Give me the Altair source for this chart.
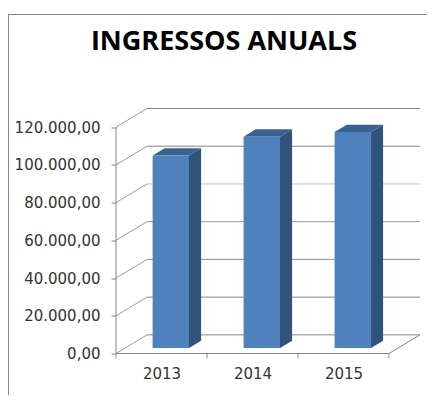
import altair as alt
import pandas as pd

YEARS = ["2013", "2014", "2015"]
VALUES = [102000, 112000, 114500]
LEVELS = [0, 20000, 40000, 60000, 80000, 100000, 120000]
LEVEL_COLORS = ["#868686", "#868686", "#8e8e8e", "#9a9a9a", "#c4c4c4", "#868686", "#868686"]

DEPTH_X = 0.341      # depth of the 3D box, in category units
DEPTH_V = 9886       # depth of the 3D box, in value units
BAR_WIDTH = 0.40
BAR_GAP = 0.30
BAR_FRONT = 0.30     # depth fraction where bar starts
BAR_DEPTH = 0.39     # depth fraction of bar
N = len(YEARS)
XMAX = N + DEPTH_X
YMAX = LEVELS[-1] + DEPTH_V

AXIS_GRAY = "#868686"
FRONT = "#4F81BD"
SIDE = "#31527A"
TOP = "#3A6291"

W, H = 304, 245
xs = alt.Scale(domain=[0, XMAX], nice=False, zero=False)
ys = alt.Scale(domain=[0, YMAX], nice=False, zero=False)

grid = pd.DataFrame({
    "x0": [0.0] * len(LEVELS), "x1": [DEPTH_X] * len(LEVELS), "x2": [N + DEPTH_X] * len(LEVELS),
    "v": LEVELS, "vb": [v + DEPTH_V for v in LEVELS], "c": LEVEL_COLORS,
})

fx = [i + BAR_GAP + BAR_FRONT * DEPTH_X for i in range(N)]
base = BAR_FRONT * DEPTH_V
front = pd.DataFrame({"a": fx, "b": [x + BAR_WIDTH for x in fx],
                      "v0": [base] * N, "v1": [v + base for v in VALUES]})
dx = BAR_DEPTH * DEPTH_X
dv = BAR_DEPTH * DEPTH_V
side_rows, top_rows = [], []
for i, yr in enumerate(YEARS):
    r = fx[i] + BAR_WIDTH
    t = VALUES[i] + base
    side_rows += [{"yr": yr, "x": r, "t": t, "b": base},
                  {"yr": yr, "x": r + dx, "t": t + dv, "b": base + dv}]
    top_rows += [{"yr": yr, "y": t, "l": fx[i], "r": r},
                 {"yr": yr, "y": t + dv, "l": fx[i] + dx, "r": r + dx}]
side = pd.DataFrame(side_rows)
top = pd.DataFrame(top_rows)

label_expr = ("replace(replace(replace(format(datum.value,',.2f'),',','#'),'.',','),'#','.')")
year_expr = "[" + ",".join(f"'{y}'" for y in YEARS) + "][floor(datum.value)]"

xax = alt.Axis(title=None, values=[i + 0.5 for i in range(N)], labelExpr=year_expr, domain=False,
               ticks=False, grid=False, labelFont="DejaVu Sans", labelFontSize=15,
               labelColor="#333333", labelPadding=13, labelAngle=0)
yax = alt.Axis(title=None, values=LEVELS, labelExpr=label_expr, domain=False, grid=False,
               tickColor=AXIS_GRAY, tickSize=5, labelFont="DejaVu Sans", labelFontSize=15,
               labelColor="#333333", labelPadding=11)
X = lambda f: alt.X(f, scale=xs, axis=xax)
Y = lambda f: alt.Y(f, scale=ys, axis=yax)

back = alt.Chart(grid).mark_rule(strokeWidth=1).encode(
    x=X("x1:Q"), x2="x2:Q", y=Y("vb:Q"), color=alt.Color("c:N", scale=None),
)
diag = alt.Chart(grid).mark_rule(strokeWidth=1, color="#9a9a9a").encode(
    x=X("x0:Q"), x2="x1:Q", y=Y("v:Q"), y2="vb:Q",
)
floor_right = alt.Chart(pd.DataFrame({"a": [N], "b": [XMAX], "c": [0], "d": [DEPTH_V]})).mark_rule(
    strokeWidth=1, color=AXIS_GRAY).encode(x=X("a:Q"), x2="b:Q", y=Y("c:Q"), y2="d:Q")
y_line = alt.Chart(pd.DataFrame({"a": [0], "c": [LEVELS[0]], "d": [LEVELS[-1]]})).mark_rule(
    strokeWidth=1, color=AXIS_GRAY).encode(x=X("a:Q"), y=Y("c:Q"), y2="d:Q")
x_line = alt.Chart(pd.DataFrame({"a": [0], "b": [N], "c": [0]})).mark_rule(
    strokeWidth=1, color=AXIS_GRAY).encode(x=X("a:Q"), x2="b:Q", y=Y("c:Q"))
x_ticks = alt.Chart(pd.DataFrame({"a": list(range(N + 1))})).mark_rule(
    strokeWidth=1, color=AXIS_GRAY).encode(x=X("a:Q"), y=alt.value(H), y2=alt.value(H + 5))
side_mark = alt.Chart(side).mark_area(color=SIDE, orient="vertical").encode(
    x=X("x:Q"), y=Y("t:Q"), y2="b:Q", detail="yr:N",
)
top_mark = alt.Chart(top).mark_area(color=TOP, orient="horizontal").encode(
    y=Y("y:Q"), x=X("l:Q"), x2="r:Q", detail="yr:N",
)
front_mark = alt.Chart(front).mark_rect(color=FRONT).encode(
    x=X("a:Q"), x2="b:Q", y=Y("v0:Q"), y2="v1:Q",
)
frame_top = alt.Chart(pd.DataFrame({"k": [0]})).mark_rule(strokeWidth=1, color=AXIS_GRAY).encode(
    x=alt.value(-108), x2=alt.value(311), y=alt.value(-94))
frame_left = alt.Chart(pd.DataFrame({"k": [0]})).mark_rule(strokeWidth=1, color=AXIS_GRAY).encode(
    x=alt.value(-107.5), y=alt.value(-94), y2=alt.value(287))

chart = alt.layer(
    back, diag, floor_right, y_line, x_line, x_ticks,
    side_mark, top_mark, front_mark, frame_top, frame_left,
).properties(
    width=W, height=H,
    title=alt.TitleParams("INGRESSOS ANUALS", font="Open Sans", fontSize=27, fontWeight="bold",
                          color="#000000", anchor="middle", dx=-44, offset=-42),
    padding={"left": 108, "top": 100.5, "right": 7, "bottom": 41.5},
    autosize=alt.AutoSizeParams(type="none"),
).configure_view(stroke=None)

chart.save("out.html", embed_options={"renderer": "svg", "actions": False})
